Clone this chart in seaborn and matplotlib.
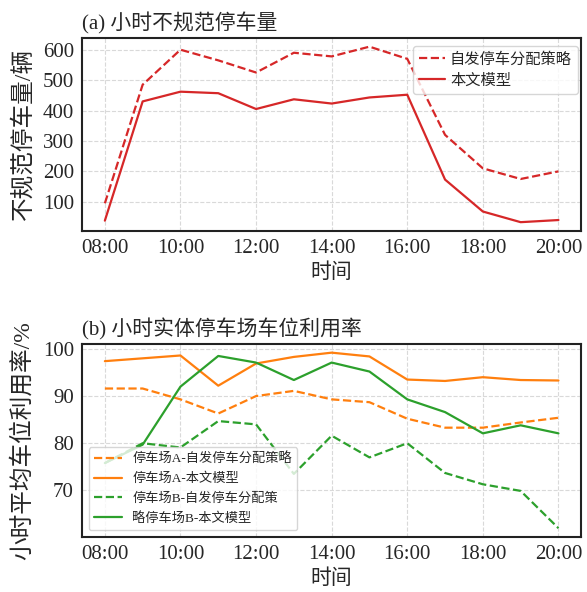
import pandas as pd
import seaborn as sns
import numpy as np
import matplotlib.pyplot as plt

hours = [8, 9, 10, 11, 12, 13, 14, 15, 16, 17, 18, 19, 20]
tick_hours = [8, 10, 12, 14, 16, 18, 20]
tick_labels = ['08:00', '10:00', '12:00', '14:00', '16:00', '18:00', '20:00']

# (a) hourly illegal parking count
spont_cnt = [95, 485, 600, 565, 525, 590, 578, 610, 570, 320, 210, 175, 200]
model_cnt = [38, 430, 462, 457, 405, 437, 423, 443, 452, 173, 68, 33, 40]

# (b) hourly utilisation of parking lots
a_spont = [91.6, 91.6, 89.3, 86.3, 90.0, 91.1, 89.3, 88.7, 85.2, 83.3, 83.3, 84.4, 85.4]
a_model = [97.4, 98.0, 98.6, 92.2, 96.9, 98.3, 99.2, 98.4, 93.5, 93.2, 94.0, 93.4, 93.3]
b_spont = [75.8, 80.0, 79.1, 84.7, 84.0, 73.5, 81.6, 77.0, 80.0, 73.7, 71.3, 69.9, 62.0]
b_model = [75.8, 79.7, 92.0, 98.5, 97.1, 93.4, 97.1, 95.2, 89.3, 86.6, 82.1, 83.8, 82.1]

sns.set_style('whitegrid')
plt.rcParams['font.family'] = ['Liberation Serif', 'Noto Sans CJK SC']
plt.rcParams['axes.unicode_minus'] = False

red = '#d62728'
orange = '#ff7f0e'
green = '#2ca02c'

fig, (ax1, ax2) = plt.subplots(2, 1, figsize=(5.87, 5.92), dpi=100)
fig.subplots_adjust(left=0.140, right=0.990, top=0.936, bottom=0.093, hspace=0.585)

df1 = pd.DataFrame({'hour': hours, 'spont': spont_cnt, 'model': model_cnt})
sns.lineplot(data=df1, x='hour', y='spont', ax=ax1, color=red, linestyle='--',
             linewidth=1.6, label='自发停车分配策略')
sns.lineplot(data=df1, x='hour', y='model', ax=ax1, color=red, linestyle='-',
             linewidth=1.6, label='本文模型')
ax1.set_title('(a) 小时不规范停车量', loc='left', fontsize=15, pad=6)
ax1.set_ylabel('不规范停车量/辆', fontsize=17, labelpad=6)
ax1.set_yticks([100, 200, 300, 400, 500, 600])
ax1.legend(loc='upper right', bbox_to_anchor=(1.0, 0.975), borderaxespad=0.2,
           fontsize=11, handlelength=1.7, handletextpad=0.3, borderpad=0.4,
           labelspacing=0.45)

df2 = pd.DataFrame({'hour': hours, 'a_spont': a_spont, 'a_model': a_model,
                    'b_spont': b_spont, 'b_model': b_model})
sns.lineplot(data=df2, x='hour', y='a_spont', ax=ax2, color=orange, linestyle='--',
             linewidth=1.6, label='停车场A-自发停车分配策略')
sns.lineplot(data=df2, x='hour', y='a_model', ax=ax2, color=orange, linestyle='-',
             linewidth=1.6, label='停车场A-本文模型')
sns.lineplot(data=df2, x='hour', y='b_spont', ax=ax2, color=green, linestyle='--',
             linewidth=1.6, label='停车场B-自发停车分配策')
sns.lineplot(data=df2, x='hour', y='b_model', ax=ax2, color=green, linestyle='-',
             linewidth=1.6, label='略停车场B-本文模型')
ax2.set_title('(b) 小时实体停车场车位利用率', loc='left', fontsize=15, pad=6)
ax2.set_ylabel('小时平均车位利用率/%', fontsize=17, labelpad=6)
ax2.set_yticks([70, 80, 90, 100])
ax2.legend(loc='lower left', fontsize=9.5, handlelength=2.1, borderpad=0.4,
           labelspacing=0.55)

for ax in (ax1, ax2):
    ax.set_xticks(tick_hours)
    ax.set_xticklabels(tick_labels)
    ax.set_xlabel('时间', fontsize=15)
    ax.tick_params(axis='both', labelsize=15, length=3, width=0.8,
                   color='#555555', pad=3)
    ax.grid(True, linestyle='--', color='#d9d9d9', linewidth=0.8)
    for sp in ax.spines.values():
        sp.set_color('#222222')
        sp.set_linewidth(1.5)

fig.savefig('out.png', dpi=100)
